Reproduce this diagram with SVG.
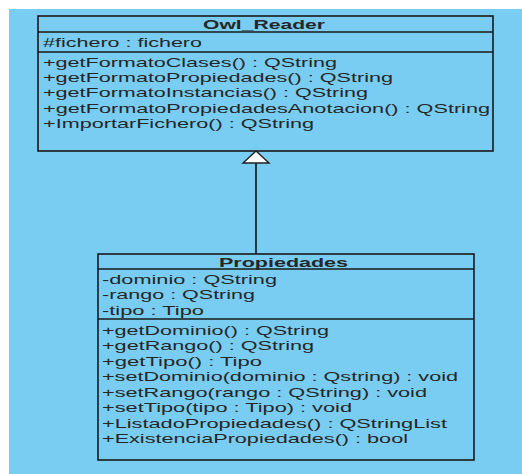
<svg xmlns="http://www.w3.org/2000/svg" width="522" height="474" viewBox="0 0 522 474">
  <style>
    .box { fill: #79cdf2; stroke: #1a1a1a; stroke-width: 1.6; }
    .sep { stroke: #1a1a1a; stroke-width: 1.4; }
    .t { font-family: "Liberation Sans", Arial, sans-serif; font-size: 13px; fill: #262626; }
    .title { font-family: "Liberation Sans", Arial, sans-serif; font-size: 13px; font-weight: bold; fill: #262626; }
    .edge { stroke: #111; stroke-width: 1.6; fill: none; }
    .head { fill: #ffffff; stroke: #222; stroke-width: 1.4; }
  </style>
  <rect x="0" y="0" width="522" height="474" fill="#ffffff"/>
  <rect x="9" y="9" width="513" height="465" fill="#79cdf2"/>

  <!-- generalization: Propiedades -> Owl_Reader -->
  <g id="connectors">
    <line class="edge" x1="256" y1="163" x2="256" y2="254"/>
    <polygon class="head" points="256,151 243,163 269,163"/>
  </g>

  <g id="owl_reader">
    <rect class="box" x="38" y="16" width="455" height="135"/>
    <line class="sep" x1="38" y1="32" x2="493" y2="32"/>
    <line class="sep" x1="38" y1="52" x2="493" y2="52"/>
    <text class="title" x="203" y="28.5" textLength="122" lengthAdjust="spacingAndGlyphs">Owl_Reader</text>
    <text class="t" x="43" y="46.5" textLength="159" lengthAdjust="spacingAndGlyphs">#fichero : fichero</text>
    <text class="t" x="43" y="66.5" textLength="294" lengthAdjust="spacingAndGlyphs">+getFormatoClases() : QString</text>
    <text class="t" x="43" y="81.5" textLength="350" lengthAdjust="spacingAndGlyphs">+getFormatoPropiedades() : QString</text>
    <text class="t" x="43" y="96.5" textLength="325" lengthAdjust="spacingAndGlyphs">+getFormatoInstancias() : QString</text>
    <text class="t" x="43" y="112.5" textLength="447" lengthAdjust="spacingAndGlyphs">+getFormatoPropiedadesAnotacion() : QString</text>
    <text class="t" x="43" y="127.5" textLength="271" lengthAdjust="spacingAndGlyphs">+ImportarFichero() : QString</text>
  </g>

  <g id="propiedades">
    <rect class="box" x="98" y="254" width="376" height="206"/>
    <line class="sep" x1="98" y1="269" x2="474" y2="269"/>
    <line class="sep" x1="98" y1="319" x2="474" y2="319"/>
    <text class="title" x="219" y="266.5" textLength="129" lengthAdjust="spacingAndGlyphs">Propiedades</text>
    <text class="t" x="102" y="283.5" textLength="175" lengthAdjust="spacingAndGlyphs">-dominio : QString</text>
    <text class="t" x="102" y="298.5" textLength="153" lengthAdjust="spacingAndGlyphs">-rango : QString</text>
    <text class="t" x="102" y="314.5" textLength="102" lengthAdjust="spacingAndGlyphs">-tipo : Tipo</text>
    <text class="t" x="102" y="334.5" textLength="227" lengthAdjust="spacingAndGlyphs">+getDominio() : QString</text>
    <text class="t" x="102" y="349.5" textLength="212" lengthAdjust="spacingAndGlyphs">+getRango() : QString</text>
    <text class="t" x="102" y="365.5" textLength="160" lengthAdjust="spacingAndGlyphs">+getTipo() : Tipo</text>
    <text class="t" x="102" y="380.5" textLength="356" lengthAdjust="spacingAndGlyphs">+setDominio(dominio : Qstring) : void</text>
    <text class="t" x="102" y="396.5" textLength="325" lengthAdjust="spacingAndGlyphs">+setRango(rango : QString) : void</text>
    <text class="t" x="102" y="411.5" textLength="250" lengthAdjust="spacingAndGlyphs">+setTipo(tipo : Tipo) : void</text>
    <text class="t" x="102" y="427.5" textLength="345" lengthAdjust="spacingAndGlyphs">+ListadoPropiedades() : QStringList</text>
    <text class="t" x="102" y="442.5" textLength="306" lengthAdjust="spacingAndGlyphs">+ExistenciaPropiedades() : bool</text>
  </g>
</svg>
